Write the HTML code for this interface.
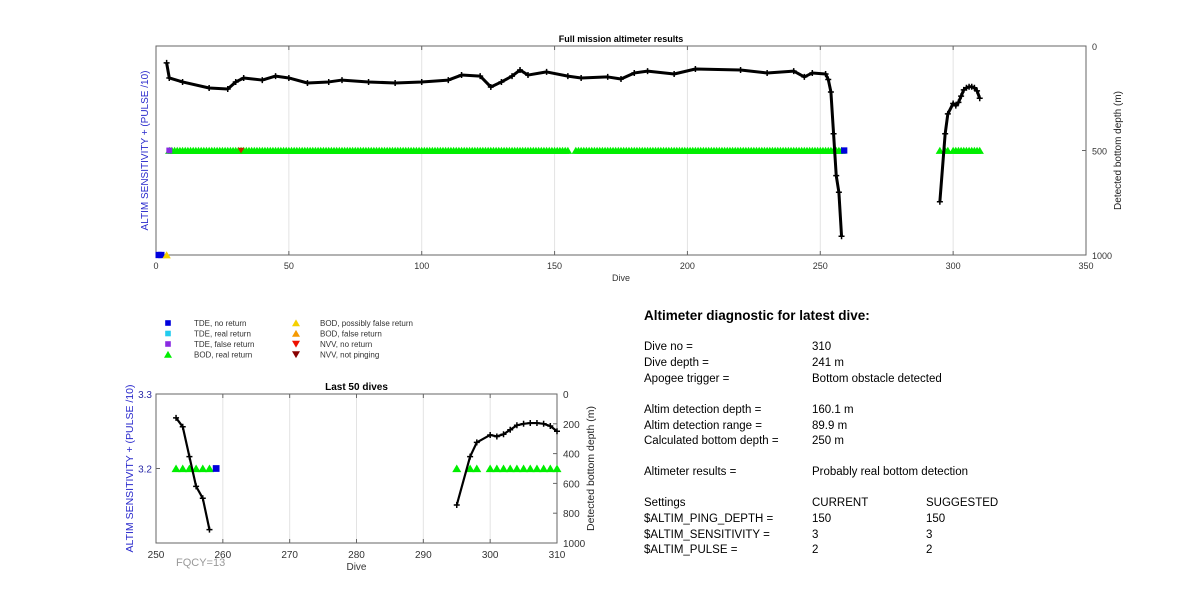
<!DOCTYPE html>
<html><head><meta charset="utf-8"><style>
body{margin:0;background:#fff;width:1200px;height:611px;overflow:hidden;font-family:"Liberation Sans",Arial,sans-serif}
svg{position:absolute;left:0;top:0}
.t{font-family:"Liberation Sans",Arial,sans-serif}
</style></head><body>
<svg id="s" width="1200" height="611" xmlns="http://www.w3.org/2000/svg">
<g class="t" font-size="11.5" fill="#000">
<text x="644" y="320" font-weight="bold" font-size="13.5">Altimeter diagnostic for latest dive:</text>
<text x="644" y="350">Dive no =</text><text x="812" y="350">310</text>
<text x="644" y="366">Dive depth =</text><text x="812" y="366">241 m</text>
<text x="644" y="382">Apogee trigger =</text><text x="812" y="382">Bottom obstacle detected</text>
<text x="644" y="413">Altim detection depth =</text><text x="812" y="413">160.1 m</text>
<text x="644" y="429">Altim detection range =</text><text x="812" y="429">89.9 m</text>
<text x="644" y="444">Calculated bottom depth =</text><text x="812" y="444">250 m</text>
<text x="644" y="475">Altimeter results =</text><text x="812" y="475">Probably real bottom detection</text>
<text x="644" y="506">Settings</text><text x="812" y="506">CURRENT</text><text x="926" y="506">SUGGESTED</text>
<text x="644" y="522">$ALTIM_PING_DEPTH =</text><text x="812" y="522">150</text><text x="926" y="522">150</text>
<text x="644" y="538">$ALTIM_SENSITIVITY =</text><text x="812" y="538">3</text><text x="926" y="538">3</text>
<text x="644" y="553">$ALTIM_PULSE =</text><text x="812" y="553">2</text><text x="926" y="553">2</text>
</g>
</svg>
<script>
// ---- data ----
const depthDives = [4,5,10,20,27,30,33,40,45,50,57,65,70,80,90,100,110,115,122,126,130,134,137,140,147,155,160,170,175,180,185,195,203,220,230,240,244,247,252,253,254,255,256,257,258,null,295,297,298,300,301,302,303,304,305,306,307,308,309,310];
const depthVals  = [81,153,172,201,206,172,153,163,144,153,177,172,163,172,177,172,163,139,144,196,172,144,115,139,124,144,153,148,158,129,120,134,110,115,129,120,148,129,134,160,220,420,620,700,910,null,745,420,325,275,285,270,240,210,200,195,195,200,215,250];
const bodRanges = [[5,155],[158,258]];
const bodLate = [295,297,298,300,301,302,303,304,305,306,307,308,309,310];
const tdeNoReturn = [[1,3.1],[2,3.1],[259,3.2]];
const tdeFalse = [[5,3.2]];
const bodPossFalse = [[4,3.1]];
const nvvNoReturn = [[32,3.2]];
const topXTicks = [0,50,100,150,200,250,300,350];
const depthTicks = [0,500,1000];
const botXTicks = [250,260,270,280,290,300,310];
const botDepthTicks = [0,200,400,600,800,1000];
const botLeftTicks = [3.3,3.2];
const lastDivesStart = 253;

const NS="http://www.w3.org/2000/svg", svg=document.getElementById('s');
function el(tag,attrs,parent){const e=document.createElementNS(NS,tag);for(const k in attrs)e.setAttribute(k,attrs[k]);(parent||svg).appendChild(e);return e;}
function txt(x,y,s,attrs,parent){const e=el('text',Object.assign({x:x,y:y,'font-family':'Liberation Sans, Arial, sans-serif'},attrs),parent);e.textContent=s;return e;}
function tri(g,x,y,r,color,down){const p=down?`${x-r},${y-r*0.8} ${x+r},${y-r*0.8} ${x},${y+r*0.9}`:`${x-r},${y+r*0.8} ${x+r},${y+r*0.8} ${x},${y-r*0.9}`;return el('polygon',{points:p,fill:color},g);}
function sq(g,x,y,r,color){return el('rect',{x:x-r,y:y-r,width:2*r,height:2*r,fill:color},g);}

let bodAll=[];bodRanges.forEach(r=>{for(let d=r[0];d<=r[1];d++)bodAll.push(d);});

function chart(cfg){
  const g=el('g',{});
  
  
  const X=v=>cfg.x0+(v-cfg.xmin)/(cfg.xmax-cfg.xmin)*(cfg.x1-cfg.x0);
  const YD=v=>cfg.y0+v/1000*(cfg.y1-cfg.y0);
  const YL=v=>cfg.y1-(v-cfg.lmin)/(cfg.lmax-cfg.lmin)*(cfg.y1-cfg.y0);
  cfg.xt.forEach(t=>{if(t>cfg.xmin&&t<cfg.xmax){const l=el('line',{x1:X(t),x2:X(t),y1:cfg.y0,y2:cfg.y1,stroke:'#e3e3e3','stroke-width':1},g);}});
  const box=el('rect',{x:cfg.x0,y:cfg.y0,width:cfg.x1-cfg.x0,height:cfg.y1-cfg.y0,fill:'none',stroke:'#666','stroke-width':1},g);
  
  cfg.xt.forEach(t=>{el('line',{x1:X(t),x2:X(t),y1:cfg.y1,y2:cfg.y1-4,stroke:'#666'},g);el('line',{x1:X(t),x2:X(t),y1:cfg.y0,y2:cfg.y0+4,stroke:'#666'},g);
    const e=txt(X(t),cfg.y1+cfg.fs+5,String(t),{'font-size':cfg.fs,'text-anchor':'middle',fill:'#333'},g);});
  cfg.dt.forEach(t=>{el('line',{x1:cfg.x1,x2:cfg.x1-4,y1:YD(t),y2:YD(t),stroke:'#666'},g);
    const e=txt(cfg.x1+6,YD(t)+4,String(t),{'font-size':cfg.fs,fill:'#333'},g);});
  (cfg.lt||[]).forEach(t=>{el('line',{x1:cfg.x0,x2:cfg.x0+4,y1:YL(t),y2:YL(t),stroke:'#666'},g);
    const e=txt(cfg.x0-4,YL(t)+4,t.toFixed(1),{'font-size':cfg.fs,'text-anchor':'end',fill:'#2a2aa8'},g);});
  let e=txt((cfg.x0+cfg.x1)/2,cfg.y0-4,cfg.title,{'font-size':cfg.tfs,'font-weight':'bold','text-anchor':'middle'},g);
  e=txt((cfg.x0+cfg.x1)/2,cfg.y1+cfg.fs+17,'Dive',{'font-size':cfg.fs,'text-anchor':'middle',fill:'#333'},g);
  e=txt(0,0,'Detected bottom depth (m)',{'font-size':cfg.afs,'text-anchor':'middle',fill:'#222',transform:`translate(${cfg.rl},${(cfg.y0+cfg.y1)/2}) rotate(-90)`},g);
  e=txt(0,0,'ALTIM SENSITIVITY + (PULSE /10)',{'font-size':cfg.afs,'text-anchor':'middle',fill:'#2a2acc',transform:`translate(${cfg.ll},${(cfg.y0+cfg.y1)/2}) rotate(-90)`},g);
  const inX=d=>d>=cfg.dmin&&d<=cfg.xmax;
  const mg=el('g',{},g);
  bodAll.concat(bodLate).filter(inX).forEach(d=>{const m=tri(mg,X(d),YL(3.2),cfg.mr,'#00ee00',false);});
  tdeNoReturn.filter(p=>inX(p[0])).forEach(p=>{const m=sq(mg,X(p[0]),YL(p[1]),cfg.mr*0.75,'#0000dd');});
  tdeFalse.filter(p=>inX(p[0])).forEach(p=>{const m=sq(mg,X(p[0]),YL(p[1]),cfg.mr*0.7,'#8a2be2');});
  bodPossFalse.filter(p=>inX(p[0])).forEach(p=>{const m=tri(mg,X(p[0]),YL(p[1]),cfg.mr,'#f5d000',false);});
  nvvNoReturn.filter(p=>inX(p[0])).forEach(p=>{const m=tri(mg,X(p[0]),YL(p[1]),cfg.mr*0.8,'#cc2200',true);});
  let segs=[],cur=[];
  depthDives.forEach((d,i)=>{if(d===null||depthVals[i]===null){if(cur.length)segs.push(cur);cur=[];return;}if(inX(d))cur.push([X(d),YD(depthVals[i])]);});
  if(cur.length)segs.push(cur);
  segs.forEach(s=>{const p=el('polyline',{points:s.map(q=>q.join(',')).join(' '),fill:'none',stroke:'#000','stroke-width':cfg.lw,'stroke-linejoin':'round'},g);
    s.forEach(q=>{const c=el('path',{d:`M${q[0]-3},${q[1]}h6M${q[0]},${q[1]-3}v6`,stroke:'#000','stroke-width':1.5},g);});});
}
chart({name:'full-mission-chart',x0:156,x1:1086,y0:46,y1:255,xmin:0,dmin:0,xmax:350,lmin:3.1,lmax:3.3,xt:topXTicks,dt:depthTicks,lt:[],title:'Full mission altimeter results',fs:9,tfs:9,afs:10,rl:1121,ll:148,mr:4.2,lw:3});
chart({name:'last-50-dives-chart',x0:156,x1:557,y0:394,y1:543,xmin:250,dmin:lastDivesStart,xmax:310,lmin:3.1,lmax:3.3,xt:botXTicks,dt:botDepthTicks,lt:botLeftTicks,title:'Last 50 dives',fs:10,tfs:10,afs:10.5,rl:594,ll:133,mr:4.5,lw:2.2});

const lg=el('g',{});
const legL=[['sq','#0000dd','TDE, no return'],['sq','#22ccee','TDE, real return'],['sq','#8a2be2','TDE, false return'],['up','#00ee00','BOD, real return']];
const legR=[['up','#f5d000','BOD, possibly false return'],['up','#f59a00','BOD, false return'],['dn','#ee1100','NVV, no return'],['dn','#880000','NVV, not pinging']];
[[legL,168,194],[legR,296,320]].forEach(([items,mx,tx])=>items.forEach((it,i)=>{const y=323+i*10.5;
  const g=el('g',{},lg);
  if(it[0]==='sq')sq(g,mx,y,2.8,it[1]);else tri(g,mx,y,4,it[1],it[0]==='dn');
  txt(tx,y+3,it[2],{'font-size':8,fill:'#333'},g);}));
const fq=txt(176,566,'FQCY=13',{'font-size':11,fill:'#999'});
</script>
</body></html>
